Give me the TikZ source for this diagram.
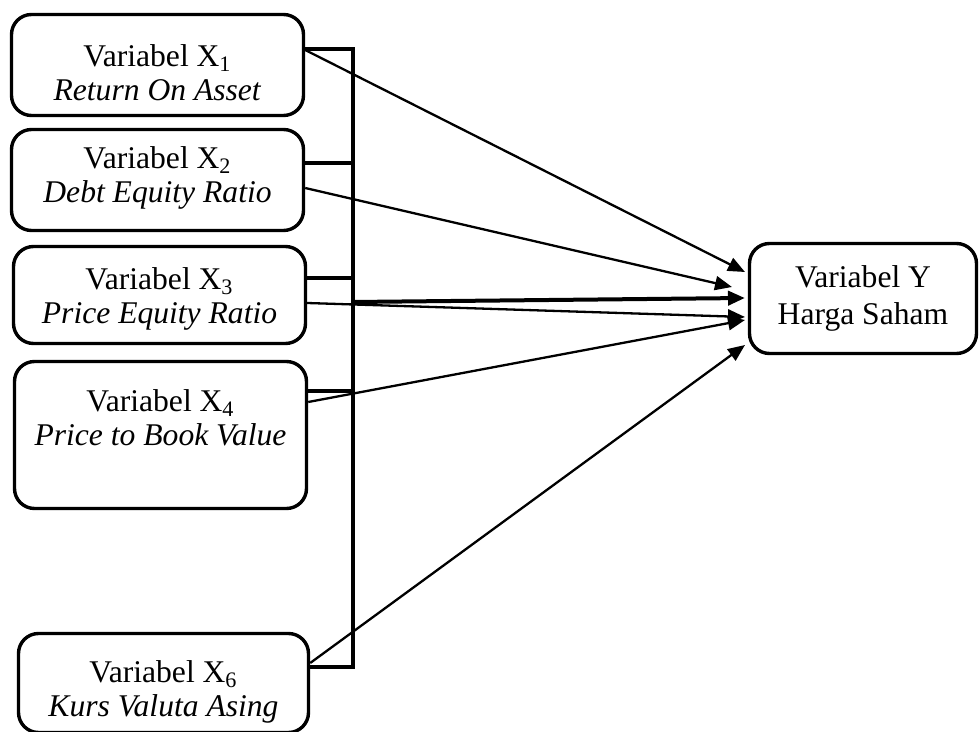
\documentclass[tikz,border=0pt]{standalone}
\usepackage{fontspec}
\setmainfont{Liberation Serif}
\usetikzlibrary{arrows.meta}
\begin{document}
\begin{tikzpicture}[x=0.5pt,y=-0.5pt,
  box/.style={draw, line width=1.7pt, rounded corners=10pt, inner sep=0pt},
  txt/.style={align=center, font=\fontsize{15.8}{17}\selectfont, inner sep=0pt},
  link/.style={line width=1.7pt},
  arr/.style={line width=1.15pt, -{Triangle[length=8.5pt,width=7pt]}},
  thickarr/.style={line width=2pt, -{Triangle[length=8.5pt,width=7pt]}}]
\useasboundingbox (0,0) rectangle (979,732);
\clip (0,0) rectangle (979,732);
% boxes
\node[box, minimum width=146pt, minimum height=50.5pt] (x1) at (157.5,65) {};
\node[txt] (t1) at (157.5,73) {Variabel X\textsubscript{1}\\\textit{Return On Asset}};
\node[box, minimum width=146pt, minimum height=50.5pt] (x2) at (157.5,180) {};
\node[txt] (t2) at (157.5,178) {Variabel X\textsubscript{2}\\\textit{Debt Equity Ratio}};
\node[box, minimum width=146pt, minimum height=48.5pt] (x3) at (159.5,295) {};
\node[txt] (t3) at (159.5,299) {Variabel X\textsubscript{3}\\\textit{Price Equity Ratio}};
\node[box, minimum width=146pt, minimum height=73.5pt] (x4) at (160.5,435) {};
\node[txt] (t4) at (160.5,418) {Variabel X\textsubscript{4}\\\textit{Price to Book Value}};
\node[box, minimum width=145pt, minimum height=49.5pt] (x6) at (163.5,683) {};
\node[txt] (t6) at (163.5,692) {Variabel X\textsubscript{6}\\\textit{Kurs Valuta Asing}};
\node[box, minimum width=113.5pt, minimum height=55pt] (yv) at (863,298.5) {};
\node[txt, font=\fontsize{15.8}{18.5}\selectfont] (ty) at (863,298) {Variabel Y\\Harga Saham};
% bracket
\coordinate (b1) at (353,49);
\coordinate (b2) at (353,163);
\coordinate (b3) at (353,278);
\coordinate (b4) at (353,391);
\coordinate (b6) at (353,667);
\coordinate (bo) at (353,302);
\draw[link] (x1.east |- b1) -- (b1) -- (b6) -- (x6.east |- b6);
\draw[link] (x2.east |- b2) -- (b2);
\draw[link] (x3.east |- b3) -- (b3);
\draw[link] (x4.east |- b4) -- (b4);
% arrow ends
\coordinate (e1) at (745,272);
\coordinate (e2) at (732,287);
\coordinate (e0) at (745,298);
\coordinate (e3) at (745,317);
\coordinate (e4) at (745,320);
\coordinate (e6) at (745,345);
% arrows
\draw[arr] (x1.east |- 0,50) -- (e1);
\draw[arr] (x2.east |- 0,188) -- (e2);
\draw[thickarr] (bo) -- (e0);
\draw[arr] (x3.east |- 0,303) -- (e3);
\draw[arr] (x4.east |- 0,402) -- (e4);
\draw[arr] (x6.east |- 0,663) -- (e6);
\end{tikzpicture}
\end{document}
